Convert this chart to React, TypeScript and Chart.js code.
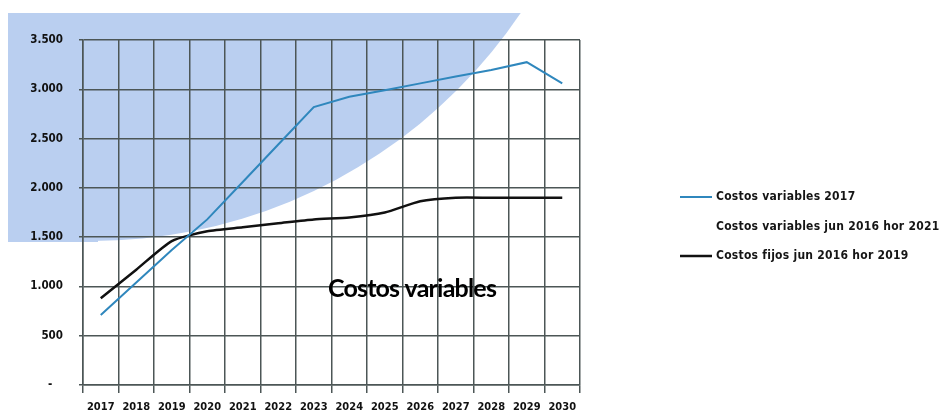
import React, { useEffect, useRef } from "react";
import { Chart, registerables } from "chart.js";

Chart.register(...registerables);

const years = ["2017", "2018", "2019", "2020", "2021", "2022", "2023", "2024", "2025", "2026", "2027", "2028", "2029", "2030"];
const costosVariables2017 = [710, 1040, 1370, 1680, 2060, 2440, 2820, 2925, 2990, 3060, 3130, 3195, 3275, 3060];
const costosVariablesJun2016Hor2021: (number | null)[] = [];
const costosFijosJun2016Hor2019 = [880, 1170, 1460, 1560, 1600, 1640, 1680, 1700, 1750, 1865, 1900, 1900, 1900, 1900];
const seriesLabels = [
  "Costos variables 2017",
  "Costos variables jun 2016 hor 2021",
  "Costos fijos jun 2016 hor 2019",
];
const yMin = 0;
const yMax = 3500;
const yStep = 500;
const chartTitle = "Costos variables";

const GRID = "#4c5656";
const TICK_FONT = '"DejaVu Sans Condensed", "Liberation Sans Narrow", "DejaVu Sans", sans-serif';

function fmt(v: number): string {
  if (v === 0) return "-   ";
  return String(v).replace(/\B(?=(\d{3})+(?!\d))/g, ".");
}

export default function App() {
  const ref = useRef<HTMLCanvasElement>(null);

  useEffect(() => {
    const canvas = ref.current;
    if (!canvas) return;

    const bgPlugin = {
      id: "bgShape",
      beforeDraw(chart: any) {
        const ctx = chart.ctx as CanvasRenderingContext2D;
        ctx.save();
        ctx.fillStyle = "#ffffff";
        ctx.fillRect(0, 0, chart.width, chart.height);
        ctx.beginPath();
        ctx.rect(8, 13, chart.width, chart.height);
        ctx.clip();
        ctx.fillStyle = "#bacff0";
        ctx.beginPath();
        ctx.arc(92, -276, 517, 0, Math.PI * 2);
        ctx.fill();
        ctx.fillRect(8, 13, 90, 229);
        ctx.restore();
      },
    };

    const overlayPlugin = {
      id: "overlay",
      afterDraw(chart: any) {
        const ctx = chart.ctx as CanvasRenderingContext2D;
        const area = chart.chartArea;
        ctx.save();
        // title inside plot
        ctx.fillStyle = "#000000";
        ctx.font = "bold 25px Lato";
        ctx.textAlign = "center";
        ctx.textBaseline = "alphabetic";
        (ctx as any).letterSpacing = "-0.8px";
        ctx.fillText(chartTitle, area.left + 329, area.top + 257);
        (ctx as any).letterSpacing = "0.25px";
        // legend
        ctx.font = `bold 12px ${TICK_FONT}`;
        ctx.textAlign = "left";
        ctx.textBaseline = "middle";
        chart.data.datasets.forEach((ds: any, i: number) => {
          const y = 197 + i * 29.5;
          ctx.strokeStyle = ds.borderColor;
          ctx.lineWidth = ds.borderWidth;
          ctx.beginPath();
          ctx.moveTo(680, y);
          ctx.lineTo(712, y);
          ctx.stroke();
          ctx.fillStyle = "#151515";
          ctx.fillText(ds.label, 716, y);
        });
        ctx.restore();
      },
    };

    const chart = new Chart(canvas, {
      type: "line",
      data: {
        labels: years,
        datasets: [
          {
            label: seriesLabels[0],
            data: costosVariables2017,
            borderColor: "#2f87bd",
            borderWidth: 2,
            pointRadius: 0,
            tension: 0,
          },
          {
            label: seriesLabels[1],
            data: costosVariablesJun2016Hor2021,
            borderColor: "rgba(0,0,0,0)",
            borderWidth: 2,
            pointRadius: 0,
          },
          {
            label: seriesLabels[2],
            data: costosFijosJun2016Hor2019,
            borderColor: "#111111",
            borderWidth: 2.5,
            pointRadius: 0,
            tension: 0.2,
          },
        ],
      },
      options: {
        responsive: false,
        animation: false,
        devicePixelRatio: 1,
        layout: { padding: { top: 40, right: 368, bottom: 0, left: 0 } },
        plugins: {
          legend: { display: false },
          tooltip: { enabled: false },
          title: { display: false },
        },
        scales: {
          x: {
            offset: true,
            grid: { offset: true, color: GRID, lineWidth: 1.5, tickLength: 8, drawTicks: true },
            border: { color: GRID, width: 1.5 },
            ticks: {
              color: "#111111",
              font: { family: TICK_FONT, size: 11, weight: "bold" },
              padding: 8,
              maxRotation: 0,
              autoSkip: false,
            },
            afterFit(scale: any) {
              scale.height = 27;
            },
          },
          y: {
            min: yMin,
            max: yMax,
            grid: { color: GRID, lineWidth: 1.5, tickLength: 4 },
            border: { color: GRID, width: 1.5 },
            ticks: {
              stepSize: yStep,
              color: "#111111",
              font: { family: TICK_FONT, size: 11.5, weight: "bold" },
              padding: 16,
              callback: (v: any) => fmt(Number(v)),
            },
            afterFit(scale: any) {
              scale.width = 83;
            },
          },
        },
      },
      plugins: [bgPlugin, overlayPlugin],
    } as any);

    return () => chart.destroy();
  }, []);

  return (
    <div style={{ position: "absolute", left: 0, top: 0, width: 948, height: 412 }}>
      <canvas ref={ref} width={948} height={412} style={{ display: "block" }} />
    </div>
  );
}
